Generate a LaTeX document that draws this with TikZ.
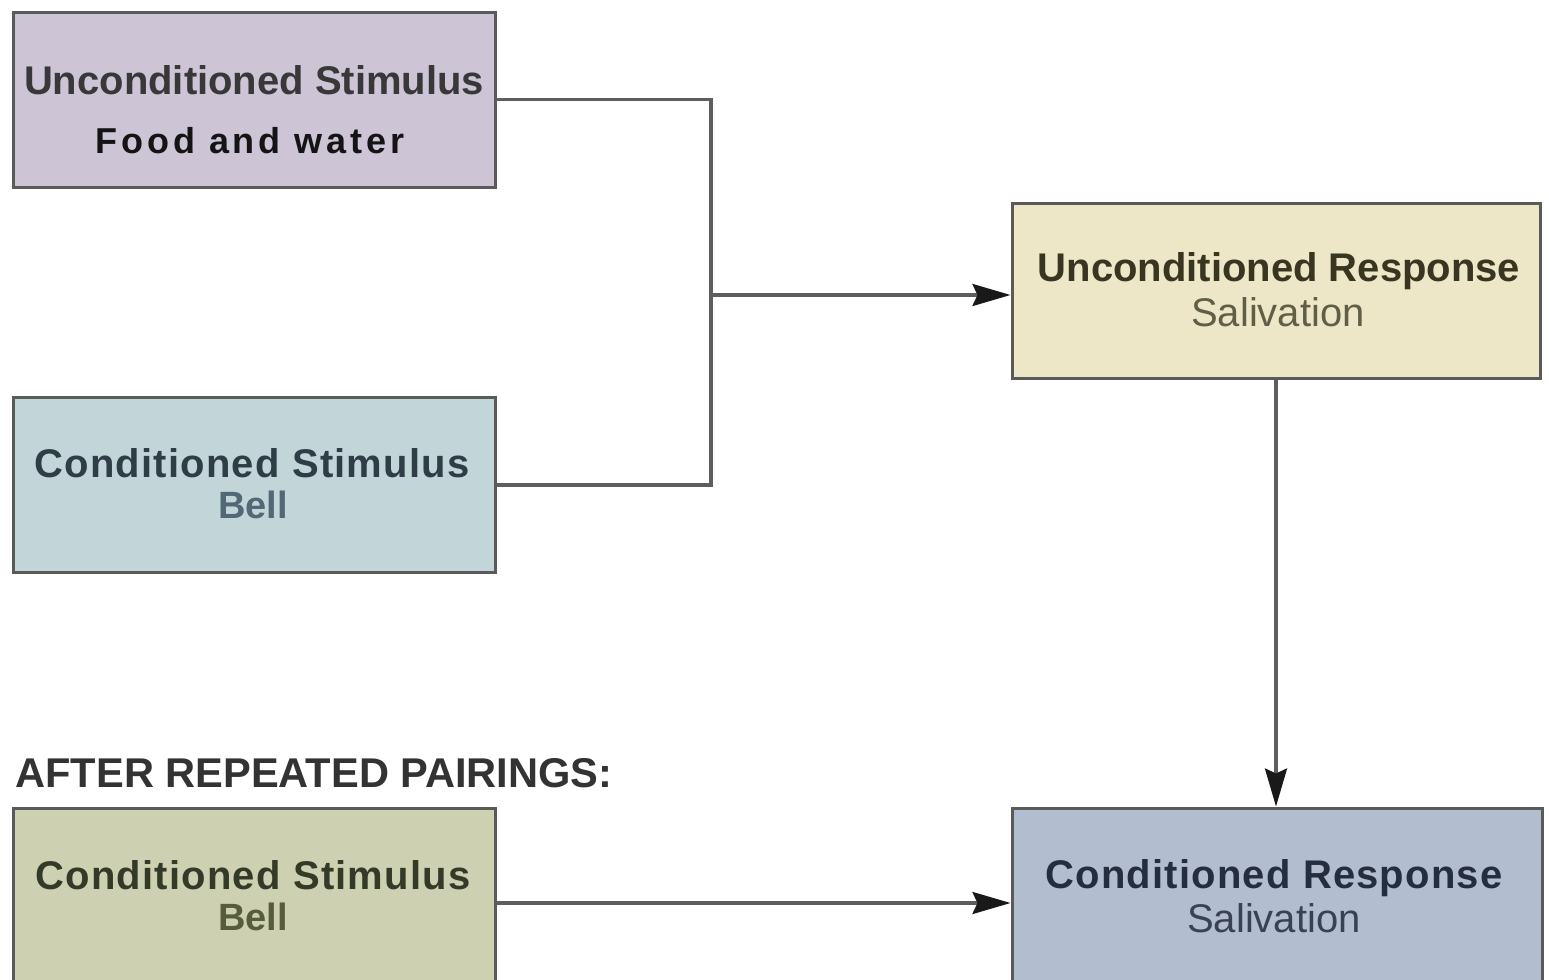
\documentclass[tikz,border=0pt]{standalone}
\usepackage{fontspec}
\setmainfont{Liberation Sans}
\usetikzlibrary{arrows.meta}

\definecolor{usfill}{HTML}{CDC4D6}
\definecolor{csfill}{HTML}{C2D6DA}
\definecolor{urfill}{HTML}{EDE7C8}
\definecolor{cstfill}{HTML}{CDD1B1}
\definecolor{crfill}{HTML}{B3BDD0}
\definecolor{edge}{HTML}{5A5A5A}
\definecolor{wire}{HTML}{5E5E5E}

\begin{document}
\begin{tikzpicture}[x=0.5pt,y=-0.5pt,
  box/.style={draw=edge, line width=1.5pt, inner sep=0pt, minimum height=87.5pt},
  leftbox/.style={box, minimum width=241pt},
  rightbox/.style={box, minimum width=264pt},
  title/.style={font=\fontsize{20}{24}\selectfont\bfseries, inner sep=0pt},
  widetitle/.style={font=\fontsize{20}{24}\selectfont\bfseries\addfontfeatures{LetterSpace=3}, inner sep=0pt},
  sub/.style={font=\fontsize{20}{24}\selectfont, inner sep=0pt},
  conn/.style={draw=wire, line width=1.6pt},
  arr/.style={conn, -{Stealth[length=19pt,width=11pt,inset=2.5pt,color=black!90]}}]
\useasboundingbox (0,0) rectangle (1549,980);
\clip (0,0) rectangle (1549,980);

% boxes
\node[leftbox, fill=usfill] (us) at (254,99.5) {};
\node[leftbox, fill=csfill] (cs) at (254,485) {};
\node[rightbox, fill=urfill] (ur) at (1276,290.5) {};
\node[leftbox, fill=cstfill, minimum height=91pt] (cst) at (254,899) {};
\node[rightbox, fill=crfill, minimum height=91pt, minimum width=265pt] (cr) at (1277,899) {};

% box texts
\node[title, text=black!78] (ust) at (254,80) {Unconditioned Stimulus};
\node[title, text=black!92, font=\fontsize{18}{22}\selectfont\bfseries\addfontfeatures{LetterSpace=11}] (uss) at (250,141) {Food and water};
\node[widetitle, text={rgb,255:red,47;green,62;blue,70}] (cst1) at (252,463) {Conditioned Stimulus};
\node[title, text={rgb,255:red,82;green,104;blue,118}, font=\fontsize{19}{22}\selectfont\bfseries] (css1) at (253,505) {Bell};
\node[title, text={rgb,255:red,56;green,54;blue,32}] (urt) at (1279,271) {Unconditioned Response};
\node[sub, text={rgb,255:red,95;green,95;blue,72}] (urs) at (1278,312) {Salivation};
\node[widetitle, text={rgb,255:red,52;green,58;blue,40}] (cstt) at (253,875) {Conditioned Stimulus};
\node[title, text={rgb,255:red,86;green,92;blue,60}, font=\fontsize{19}{22}\selectfont\bfseries] (csts) at (253,917) {Bell};
\node[widetitle, text={rgb,255:red,36;green,46;blue,62}] (crt) at (1274,878) {Conditioned Response};
\node[sub, text={rgb,255:red,56;green,66;blue,84}] (crs) at (1274,918) {Salivation};

% section heading
\node[title, text=black!80, font=\fontsize{20.8}{24}\selectfont\bfseries, anchor=west] (after) at (15,773) {AFTER REPEATED PAIRINGS:};

% connectors
\coordinate (join) at (711,295);
\draw[conn] (us.east) -| (join) |- (cs.east);
\draw[arr] (join) -- (join -| ur.west);
\draw[arr] (ur.south) -- (ur.south |- cr.north);
\draw[arr] ([yshift=-2pt]cst.east) -- ([yshift=-2pt]cst.east -| cr.west);
\end{tikzpicture}
\end{document}
